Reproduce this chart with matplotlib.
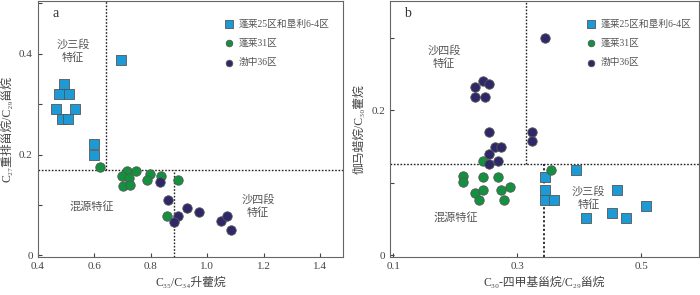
import matplotlib
matplotlib.use("Agg")
import matplotlib.pyplot as plt
from matplotlib.ticker import MultipleLocator

plt.rcParams['font.family'] = ['Liberation Serif', 'Noto Sans CJK SC', 'DejaVu Sans']

# ---------------- data: panel a ----------------
a_blue_x = [0.696, 0.494, 0.475, 0.512, 0.464, 0.532, 0.486, 0.506, 0.599, 0.599]
a_blue_y = [0.388, 0.340, 0.320, 0.320, 0.291, 0.291, 0.270, 0.270, 0.2205, 0.199]
a_green_x = [0.621, 0.716, 0.749, 0.698, 0.724, 0.798, 0.837, 0.788, 0.898, 0.702, 0.727, 0.856]
a_green_y = [0.176, 0.168, 0.168, 0.158, 0.154, 0.161, 0.158, 0.149, 0.149, 0.137, 0.140, 0.079]
a_navy_x = [0.833, 0.861, 0.895, 0.882, 0.929, 0.971, 1.047, 1.070, 1.083]
a_navy_y = [0.146, 0.109, 0.079, 0.066, 0.095, 0.087, 0.068, 0.078, 0.050]

# ---------------- data: panel b ----------------
b_navy_x = [0.344, 0.245, 0.254, 0.232, 0.232, 0.248, 0.254, 0.323, 0.323, 0.264, 0.274, 0.254, 0.269, 0.254]
b_navy_y = [0.300, 0.240, 0.236, 0.232, 0.219, 0.219, 0.170, 0.170, 0.158, 0.149, 0.149, 0.140, 0.130, 0.126]
b_green_x = [0.244, 0.354, 0.213, 0.213, 0.245, 0.269, 0.232, 0.245, 0.274, 0.289, 0.238, 0.279]
b_green_y = [0.130, 0.118, 0.110, 0.101, 0.108, 0.108, 0.086, 0.090, 0.090, 0.094, 0.077, 0.077]
b_blue_x = [0.345, 0.345, 0.345, 0.359, 0.395, 0.461, 0.452, 0.411, 0.475, 0.507]
b_blue_y = [0.108, 0.090, 0.077, 0.077, 0.118, 0.090, 0.059, 0.051, 0.051, 0.068]

series_labels = ['蓬莱25区和垦利6-4区', '蓬莱31区', '渤中36区']
a_xticks = [0.4, 0.6, 0.8, 1.0, 1.2, 1.4]
a_yticks = [0, 0.2, 0.4]
b_xticks = [0.1, 0.3, 0.5]
b_yticks = [0, 0.2]

# threshold lines
a_hline = 0.170
a_vline_top = 0.641
a_vline_bot = 0.882
b_hline = 0.1264
b_vline_top = 0.314
b_vline_bot = 0.3435

c_blue = '#1c9ad6'
c_green = '#12923e'
c_navy = '#2e2868'
edge = '#555555'
txt = '#555555'

fig = plt.figure(figsize=(7.0, 2.95), dpi=100)
axa = fig.add_axes([0.0539, 0.129, 0.436, 0.868])
axb = fig.add_axes([0.557, 0.129, 0.4416, 0.868])

sq = 58
ci = 46

def style(ax):
    for s in ax.spines.values():
        s.set_color('#666666')
        s.set_linewidth(0.8)
    ax.tick_params(axis='both', which='both', direction='in', colors='#444444',
                   labelsize=8, length=3, width=0.8, labelcolor='#444444')
    ax.tick_params(axis='y', which='minor', length=3)
    ax.tick_params(axis='x', which='minor', length=0)

dot = (0, (1.2, 1.2))

# panel a
axa.scatter(a_blue_x, a_blue_y, marker='s', s=sq, c=c_blue, edgecolors=edge, linewidths=0.6, zorder=3, label=series_labels[0])
axa.scatter(a_green_x, a_green_y, marker='o', s=ci, c=c_green, edgecolors=edge, linewidths=0.6, zorder=3, label=series_labels[1])
axa.scatter(a_navy_x, a_navy_y, marker='o', s=ci, c=c_navy, edgecolors=edge, linewidths=0.6, zorder=3, label=series_labels[2])
axa.set_xlim(0.4, 1.48)
axa.set_ylim(-0.003, 0.505)
axa.set_xticks(a_xticks)
axa.set_xticklabels(['0.4', '0.6', '0.8', '1.0', '1.2', '1.4'])
axa.set_yticks(a_yticks)
axa.set_yticklabels(['0', '0.2', '0.4'])
axa.yaxis.set_minor_locator(MultipleLocator(0.1))
style(axa)
axa.axhline(a_hline, color='#222222', ls=dot, lw=1.0, zorder=2)
axa.plot([a_vline_top, a_vline_top], [a_hline, 0.505], color='#222222', ls=dot, lw=1.0, zorder=2)
axa.plot([a_vline_bot, a_vline_bot], [-0.003, a_hline], color='#222222', ls=dot, lw=1.0, zorder=2)
axa.text(0.05, 0.95, 'a', transform=axa.transAxes, fontsize=10, color='#333333', ha='left', va='center')
axa.text(0.525, 0.405, '沙三段\n特征', ha='center', va='center', fontsize=8, color=txt, linespacing=1.3)
axa.text(0.592, 0.098, '混源特征', ha='center', va='center', fontsize=8, color=txt)
axa.text(1.18, 0.098, '沙四段\n特征', ha='center', va='center', fontsize=8, color=txt, linespacing=1.3)
axa.set_xlabel('C₃₅/C₃₄升藿烷', fontsize=8.5, color='#444444', labelpad=4)
axa.set_ylabel('C₂₇重排甾烷/C₂₉甾烷', fontsize=8.5, color='#444444', labelpad=4)
axa.legend(loc='upper left', bbox_to_anchor=(0.565, 0.962), frameon=False, fontsize=7,
           handletextpad=0.05, labelspacing=1.05, markerscale=0.7, labelcolor='#555555')

# panel b
axb.scatter(b_blue_x, b_blue_y, marker='s', s=sq, c=c_blue, edgecolors=edge, linewidths=0.6, zorder=3, label=series_labels[0])
axb.scatter(b_green_x, b_green_y, marker='o', s=ci, c=c_green, edgecolors=edge, linewidths=0.6, zorder=3, label=series_labels[1])
axb.scatter(b_navy_x, b_navy_y, marker='o', s=ci, c=c_navy, edgecolors=edge, linewidths=0.6, zorder=3, label=series_labels[2])
axb.set_xlim(0.0946, 0.593)
axb.set_ylim(-0.002, 0.351)
axb.set_xticks(b_xticks)
axb.set_xticklabels(['0.1', '0.3', '0.5'])
axb.set_yticks(b_yticks)
axb.set_yticklabels(['0', '0.2'])
axb.yaxis.set_minor_locator(MultipleLocator(0.1))
style(axb)
axb.axhline(b_hline, color='#222222', ls=dot, lw=1.0, zorder=2)
axb.plot([b_vline_top, b_vline_top], [b_hline, 0.351], color='#222222', ls=dot, lw=1.0, zorder=2)
axb.plot([b_vline_bot, b_vline_bot], [-0.002, b_hline], color='#222222', ls=dot, lw=1.3, zorder=2)
axb.text(0.045, 0.95, 'b', transform=axb.transAxes, fontsize=10, color='#333333', ha='left', va='center')
axb.text(0.182, 0.274, '沙四段\n特征', ha='center', va='center', fontsize=8, color=txt, linespacing=1.3)
axb.text(0.20, 0.052, '混源特征', ha='center', va='center', fontsize=8, color=txt)
axb.text(0.415, 0.079, '沙三段\n特征', ha='center', va='center', fontsize=8, color=txt, linespacing=1.3)
axb.set_xlabel('C₃₀-四甲基甾烷/C₂₉甾烷', fontsize=8.5, color='#444444', labelpad=4)
axb.set_ylabel('伽马蜡烷/C₃₀藿烷', fontsize=8.5, color='#444444', labelpad=4)
axb.legend(loc='upper left', bbox_to_anchor=(0.59, 0.962), frameon=False, fontsize=7,
           handletextpad=0.05, labelspacing=1.05, markerscale=0.7, labelcolor='#555555')

fig.savefig('out.png', dpi=100)
